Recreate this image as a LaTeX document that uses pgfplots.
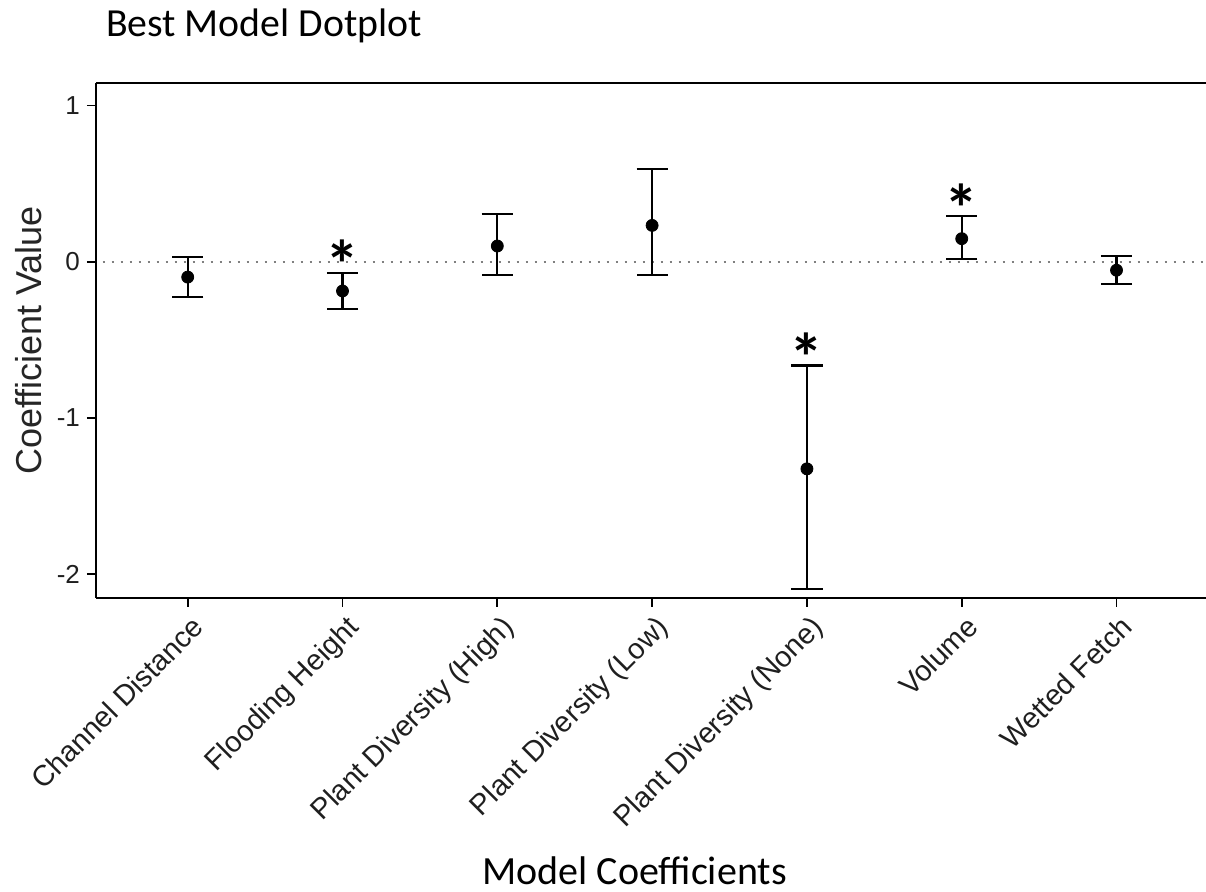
\documentclass[border=0pt]{standalone}
\usepackage{pgfplots}
\pgfplotsset{compat=1.18}
\usepackage{pgfplotstable}
\usepackage{fontspec}
\setmainfont{Carlito}
\newfontfamily\arial{Liberation Sans}

\pgfplotstableread{
x   y       ep     em
0  -0.099   0.131  0.130
1  -0.188   0.117  0.115
2   0.100   0.205  0.188
3   0.232   0.361  0.317
4  -1.327   0.662  0.767
5   0.147   0.143  0.130
6  -0.055   0.089  0.089
}\coef

\pgfplotstableread{
x   y
1  -0.071
4  -0.665
5   0.290
}\stars

\begin{document}
\begin{tikzpicture}
\useasboundingbox (-48pt,-147pt) rectangle (555pt,299pt);
\begin{axis}[
  at={(0,0)}, anchor=south west,
  scale only axis, width=555pt, height=257.5pt,
  xmin=-0.5924, xmax=6.578, ymin=-2.154, ymax=1.144,
  axis x line=box, axis y line=left,
  axis line style={-, line width=1pt, black},
  tick align=outside, tick pos=left,
  major tick length=4.5pt,
  tick style={line width=0.9pt, black},
  xtick={0,1,2,3,4,5,6},
  xticklabels={Channel Distance, Flooding Height, Plant Diversity (High), Plant Diversity (Low), Plant Diversity (None), Volume, Wetted Fetch},
  xticklabel style={font=\arial\fontsize{14.5}{16}\selectfont, rotate=45, anchor=north east, text=black!88, xshift=2pt},
  ytick={-2,-1,0,1},
  yticklabels={-2,-1,0,1},
  yticklabel style={font=\arial\fontsize{13}{15}\selectfont, text=black!88},
  clip=false,
]
\addplot[gray, line width=1pt, dash pattern=on 1pt off 3.5pt] coordinates {(-0.55,0) (6.578,0)};
\addplot[black, only marks, mark=*, mark size=3pt,
  error bars/.cd, y dir=both, y explicit,
  error bar style={line width=1.1pt, black},
  error mark options={rotate=90, black, mark size=7.8pt, line width=1.1pt}]
  table[x=x, y=y, y error plus=ep, y error minus=em] {\coef};
\addplot[draw=none, mark=none, nodes near coords={\bfseries\fontsize{34}{34}\selectfont *},
  every node near coord/.style={anchor=base, text=black, inner sep=0pt, yshift=-8pt}]
  table[x=x, y=y] {\stars};
\end{axis}
\node[anchor=base west, font=\fontsize{19.9}{23}\selectfont] at (1.5pt,280.5pt) {Best Model Dotplot};
\node[anchor=base, font=\fontsize{20}{23}\selectfont] at (269.25pt,-143.5pt) {Model Coefficients};
\node[anchor=base, rotate=90, font=\arial\fontsize{18}{20}\selectfont, text=black!85] at (-27pt,128.75pt) {Coefficient Value};
\end{tikzpicture}
\end{document}
